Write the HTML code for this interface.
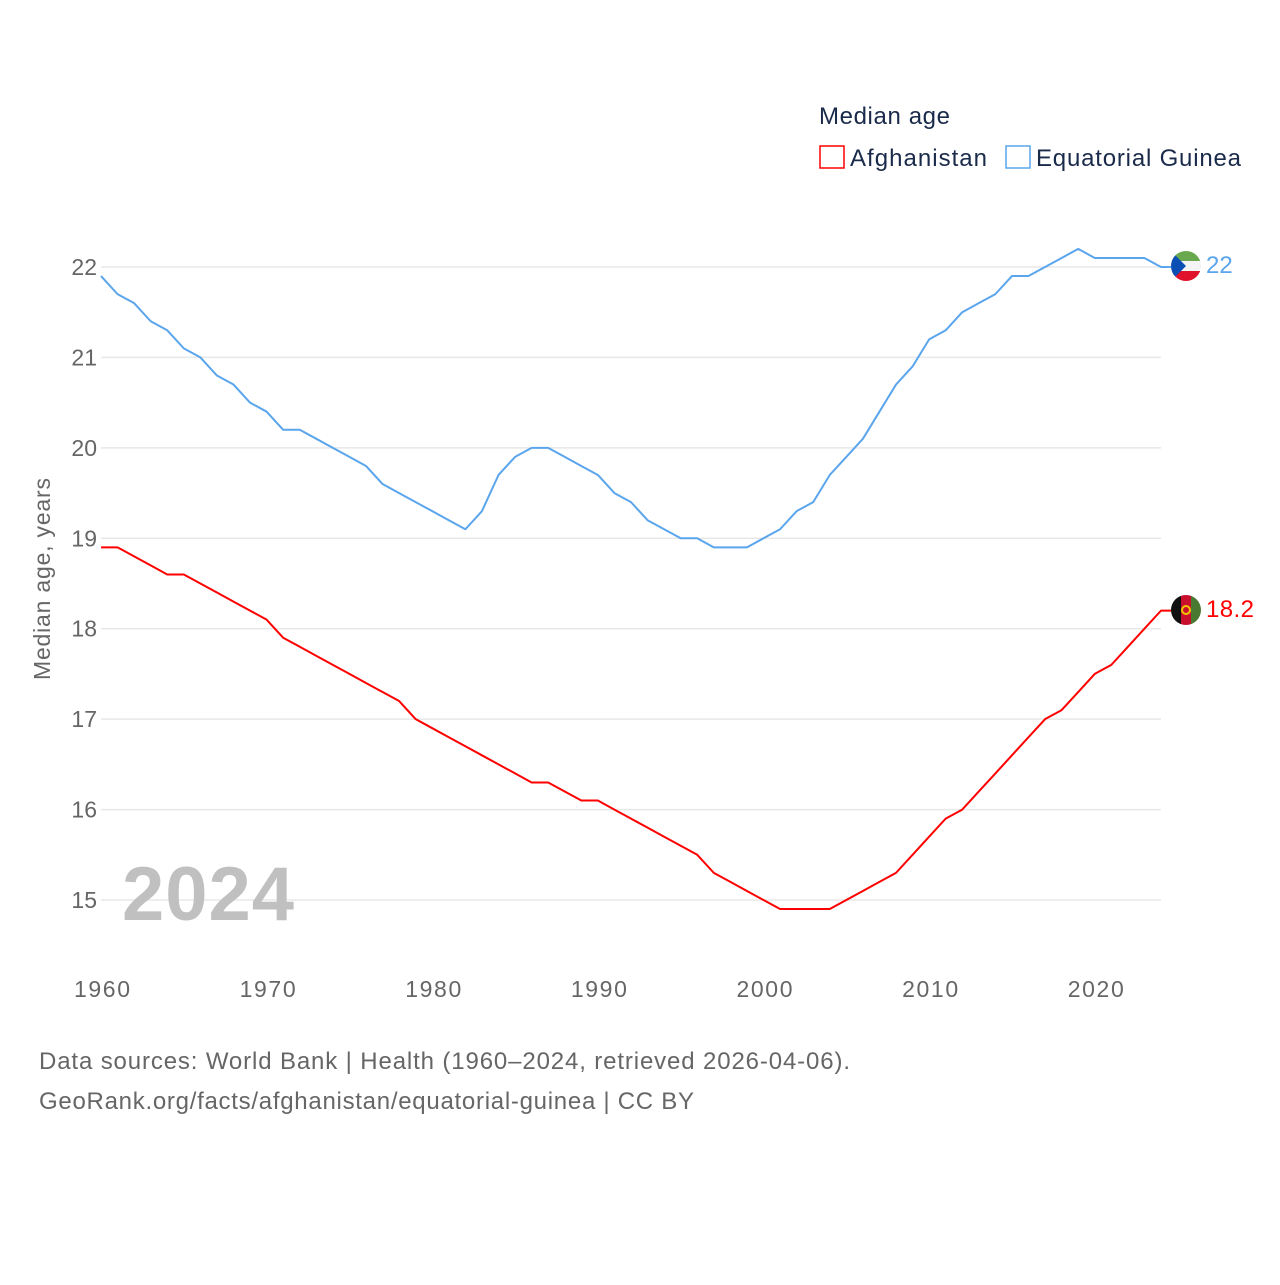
<!DOCTYPE html>
<html><head><meta charset="utf-8"><style>
body{margin:0;background:#fff;}
svg text{font-family:"Liberation Sans",sans-serif;}
</style></head><body>
<svg id="c" width="1280" height="1280" xmlns="http://www.w3.org/2000/svg">
<defs>
<clipPath id="f1"><circle cx="1186" cy="266" r="15"/></clipPath>
<clipPath id="f2"><circle cx="1186" cy="610" r="15"/></clipPath>
</defs>
<g id="grid"></g>
<g id="yt"></g>
<g id="xt"></g>
<text x="50" y="579" transform="rotate(-90 50 579)" text-anchor="middle" font-size="23" fill="#666" textLength="202">Median age, years</text>
<text x="122" y="920" font-size="76" font-weight="bold" fill="#c0c0c0" textLength="172">2024</text>
<g id="lines"></g>
<g clip-path="url(#f1)">
<rect x="1171" y="251" width="30" height="10" fill="#6aa84f"/><rect x="1171" y="261" width="30" height="10" fill="#f4f4f4"/><rect x="1171" y="271" width="30" height="10" fill="#e0112b"/>
<polygon points="1171,251 1186,266 1171,281" fill="#0b4fb5"/></g>
<g clip-path="url(#f2)">
<rect x="1171" y="595" width="10" height="30" fill="#111"/><rect x="1181" y="595" width="10" height="30" fill="#c8102e"/><rect x="1191" y="595" width="10" height="30" fill="#4a7a32"/>
<circle cx="1186" cy="610" r="4" fill="none" stroke="#f5c400" stroke-width="2"/></g>
<text x="1206" y="273" font-size="24" fill="#5aa5ec">22</text>
<text x="1206" y="617" font-size="24" fill="#ff0000" textLength="48">18.2</text>
<text x="819" y="124" font-size="24" fill="#1a2a4a" textLength="131">Median age</text>
<g><rect x="820" y="146" width="24" height="22" fill="none" stroke="#ff0000" stroke-width="1.5"/><text x="850" y="166" font-size="24" fill="#1a2a4a" textLength="137">Afghanistan</text></g>
<g><rect x="1006" y="146" width="24" height="22" fill="none" stroke="#5aa5ec" stroke-width="1.5"/><text x="1036" y="166" font-size="24" fill="#1a2a4a" textLength="205">Equatorial Guinea</text></g>
<text x="39" y="1069" font-size="24" fill="#666" textLength="811">Data sources: World Bank | Health (1960–2024, retrieved 2026-04-06).</text>
<text x="39" y="1109" font-size="24" fill="#666" textLength="655">GeoRank.org/facts/afghanistan/equatorial-guinea | CC BY</text>
</svg>
<script>
const years=[];for(let y=1960;y<=2024;y++)years.push(y);
const afghanistan=[18.9,18.9,18.8,18.7,18.6,18.6,18.5,18.4,18.3,18.2,18.1,17.9,17.8,17.7,17.6,17.5,17.4,17.3,17.2,17.0,16.9,16.8,16.7,16.6,16.5,16.4,16.3,16.3,16.2,16.1,16.1,16.0,15.9,15.8,15.7,15.6,15.5,15.3,15.2,15.1,15.0,14.9,14.9,14.9,14.9,15.0,15.1,15.2,15.3,15.5,15.7,15.9,16.0,16.2,16.4,16.6,16.8,17.0,17.1,17.3,17.5,17.6,17.8,18.0,18.2];
const equatorialGuinea=[21.9,21.7,21.6,21.4,21.3,21.1,21.0,20.8,20.7,20.5,20.4,20.2,20.2,20.1,20.0,19.9,19.8,19.6,19.5,19.4,19.3,19.2,19.1,19.3,19.7,19.9,20.0,20.0,19.9,19.8,19.7,19.5,19.4,19.2,19.1,19.0,19.0,18.9,18.9,18.9,19.0,19.1,19.3,19.4,19.7,19.9,20.1,20.4,20.7,20.9,21.2,21.3,21.5,21.6,21.7,21.9,21.9,22.0,22.1,22.2,22.1,22.1,22.1,22.1,22.0];
const yTicks=[15,16,17,18,19,20,21,22];
const xTicks=[1960,1970,1980,1990,2000,2010,2020];
const NS="http://www.w3.org/2000/svg";
const xS=y=>101+(y-1960)*(1161-101)/64;
const yS=v=>900-(v-15)*(900-267)/7;
function mk(t,a,p){const e=document.createElementNS(NS,t);for(const k in a)e.setAttribute(k,a[k]);p.appendChild(e);return e;}
const grid=document.getElementById('grid'),yt=document.getElementById('yt'),xt=document.getElementById('xt'),lines=document.getElementById('lines');
yTicks.forEach(v=>{
 const l=mk('line',{x1:101,x2:1161,y1:yS(v),y2:yS(v),stroke:'#e8e8e8','stroke-width':1.5},grid);
 
 
 const t=mk('text',{x:97,y:yS(v)+8,'text-anchor':'end','font-size':23,fill:'#666'},yt);t.textContent=v;
 
 
});
xTicks.forEach(v=>{
 const t=mk('text',{x:xS(v)+1,y:997,'text-anchor':'middle','font-size':23,fill:'#666',textLength:56},xt);t.textContent=v;
 
 
});
function series(vals,color,name){
 let d=vals.map((v,i)=>(i?'L':'M')+xS(years[i])+','+yS(v)).join(' ');
 d+=' L'+(xS(years[years.length-1])+10)+','+yS(vals[vals.length-1]);
 const p=mk('path',{d:d,fill:'none',stroke:color,'stroke-width':2,'stroke-linejoin':'round'},lines);
 
 
}
series(equatorialGuinea,'#5aa5ec','equatorial-guinea-line');
series(afghanistan,'#ff0000','afghanistan-line');
</script>
</body></html>
